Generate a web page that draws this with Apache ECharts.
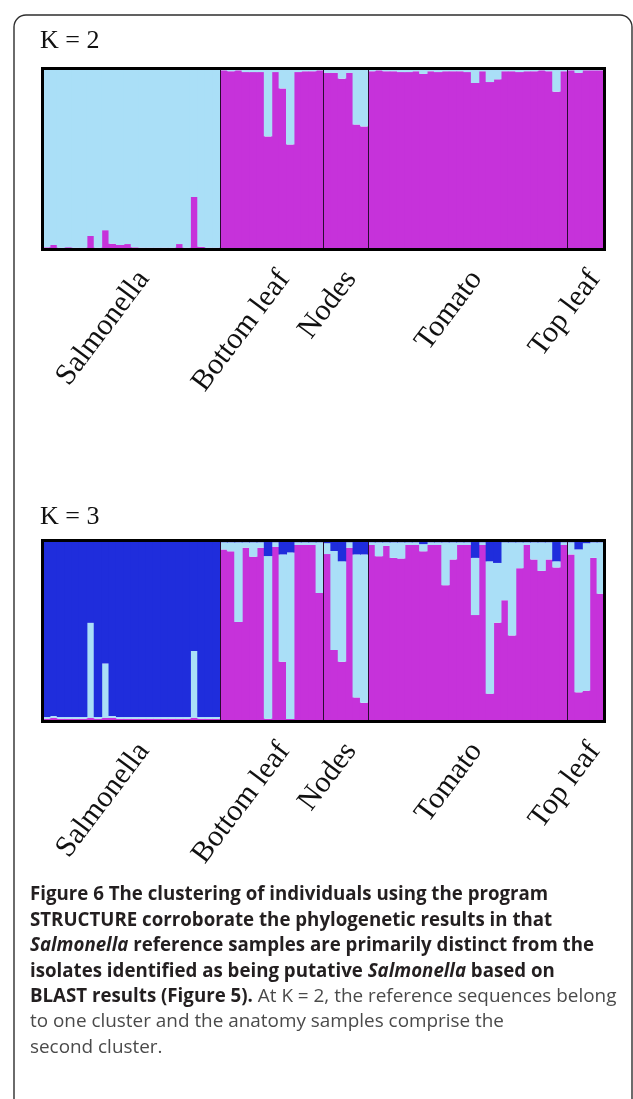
<!DOCTYPE html>
<html>
<head>
<meta charset="utf-8">
<script src="https://cdn.jsdelivr.net/npm/echarts@6/dist/echarts.min.js"></script>
<style>
html,body{margin:0;padding:0;background:#fff;}
#chart{width:633px;height:1099px;}
</style>
</head>
<body>
<div id="chart"></div>
<script>
// ---- data ----
const groups = ['Salmonella', 'Bottom leaf', 'Nodes', 'Tomato', 'Top leaf'];
const groupSizes = [24, 14, 6, 27, 5];
const groupLabelAt = [12, 7, 2, 13, 2];   // which individual in each group carries the group label
const panelTitles = ['K = 2', 'K = 3'];

// K = 2 : light-blue cluster share (%) per individual (rest is magenta cluster)
const k2LightSalmonella = [98.8, 97.5, 99.0, 98.7, 99.0, 99.0, 92.5, 99.0, 89.3, 96.8, 97.5, 97.0, 98.8, 99.0, 99.0, 99.0, 99.0, 99.0, 97.0, 99.0, 71.0, 98.5, 99.0, 99.0];
const k2LightBottomLeaf = [1, 1.5, 1, 2, 2, 2, 37.5, 2, 11, 42, 2, 1.5, 1.5, 1];
const k2LightNodes = [2.4, 2.4, 5.6, 2.4, 31, 32];
const k2LightTomato = [1.5, 1, 1.5, 1.5, 2, 2, 1.5, 3, 1.5, 2, 1.5, 1.5, 1.5, 2, 8, 1.5, 7.5, 6, 1.5, 1.5, 2, 1.5, 1.5, 1, 1.5, 12.8, 1.5];
const k2LightTopLeaf = [1, 2.4, 1, 1, 1];

// K = 3 : dark-blue and light-blue cluster shares (%) (rest is magenta cluster)
const k3DarkSalmonella = [97.5, 97, 97.5, 97.5, 97.5, 97.5, 45.5, 97.5, 68, 97, 97.5, 97.5, 97.5, 97.5, 97.5, 97.5, 97.5, 97.5, 97.5, 97.5, 61, 97.5, 97.5, 97.5];
const k3LightSalmonella = [1, 1, 1, 1, 1, 1, 52.5, 1, 30, 1, 1, 1, 1, 1, 1, 1, 1, 1, 1, 1, 37, 1, 1, 1];
const k3DarkBottomLeaf = [1, 1, 1, 1, 1, 1, 8.6, 1, 7.7, 6.6, 1, 1, 1, 1];
const k3LightBottomLeaf = [4, 5, 44, 3, 8, 3, 89.9, 2.5, 59.3, 92, 1.5, 1.5, 1.5, 28];
const k3DarkNodes = [1.5, 5.8, 11.5, 1, 7.7, 7.7];
const k3LightNodes = [6, 54.7, 55.5, 3, 79, 82];
const k3DarkTomato = [1, 1, 1, 1, 1, 1, 1, 2, 1, 1, 1, 1, 1, 1, 9.6, 1, 11.5, 12.4, 1, 1, 1, 1, 1, 1, 1, 11.5, 1];
const k3LightTomato = [1.5, 7.7, 2, 8.6, 9, 1.5, 1.5, 4, 1.5, 1.5, 23.7, 9.5, 1.5, 1.5, 31.6, 1.5, 73.1, 33, 32, 51.5, 14.3, 1.5, 9.5, 15.8, 9.5, 3.4, 1.5];
const k3DarkTopLeaf = [1, 4.9, 1.5, 1, 1];
const k3LightTopLeaf = [6.7, 79, 81.5, 8.6, 28.4];

const captionLines = [
  '{b|Figure 6 The clustering of individuals using the program}',
  '{b|STRUCTURE corroborate the phylogenetic results in that}',
  '{bi|Salmonella}{b| reference samples are primarily distinct from the}',
  '{b|isolates identified as being putative }{bi|Salmonella}{b| based on}',
  '{b|BLAST results (Figure 5).}{n| At K = 2, the reference sequences belong}',
  '{n|to one cluster and the anatomy samples comprise the}',
  '{n|second cluster.}'
];

// ---- build ----
const LIGHT = '#aadff7', MAG = '#c632da', DARK = '#1f2ddc', SEP = '#2a0b33';
const k2Light = [].concat(k2LightSalmonella, k2LightBottomLeaf, k2LightNodes, k2LightTomato, k2LightTopLeaf);
const k2Mag = k2Light.map(v => +(100 - v).toFixed(2));
const k3Dark = [].concat(k3DarkSalmonella, k3DarkBottomLeaf, k3DarkNodes, k3DarkTomato, k3DarkTopLeaf);
const k3Light = [].concat(k3LightSalmonella, k3LightBottomLeaf, k3LightNodes, k3LightTomato, k3LightTopLeaf);
const k3Mag = k3Dark.map((d, i) => +(100 - d - k3Light[i]).toFixed(2));

const total = groupSizes.reduce((a, b) => a + b, 0);
const sampleLabels = [];
const boundaries = [];
let acc = 0;
groups.forEach((g, gi) => {
  const n = groupSizes[gi];
  for (let i = 0; i < n; i++) sampleLabels.push(i === groupLabelAt[gi] ? g : '');
  acc += n;
  if (gi < groups.length - 1) boundaries.push(acc);
});

const gridBase = {left: 42.5, width: 562, height: 181, show: true, borderColor: '#000', borderWidth: 3, backgroundColor: 'rgba(0,0,0,0)', z: 10};
const catAxis = (gi) => ({
  type: 'category', gridIndex: gi, data: sampleLabels,
  axisLine: {show: false}, axisTick: {show: false}, splitLine: {show: false},
  axisLabel: {interval: 0, rotate: 53, margin: 18, verticalAlign: 'top', lineHeight: 22,
    fontFamily: 'Liberation Serif', fontSize: 30, color: '#111'}
});
const bar = (name, gi, stack, data, color) => ({
  type: 'bar', name, xAxisIndex: gi, yAxisIndex: gi, stack, data,
  barWidth: '114%', itemStyle: {color}, silent: true
});
const sepSeries = (gi) => ({
  type: 'line', xAxisIndex: 2 + gi, yAxisIndex: gi, data: [], z: 6, silent: true,
  markLine: {symbol: ['none', 'none'], silent: true, label: {show: false},
    lineStyle: {color: SEP, width: 1, type: 'solid'}, emphasis: {disabled: true},
    data: boundaries.map(b => ({xAxis: b}))}
});

const graphic = [
  {type: 'rect', shape: {x: 14, y: 15, width: 618, height: 1200, r: 12}, style: {fill: 'none', stroke: '#2e2e2e', lineWidth: 1.4}, silent: true},
  {type: 'text', x: 40, y: 41, style: {text: panelTitles[0], fontFamily: 'Liberation Serif', fontSize: 26, fill: '#111', verticalAlign: 'middle'}},
  {type: 'text', x: 40, y: 517, style: {text: panelTitles[1], fontFamily: 'Liberation Serif', fontSize: 26, fill: '#111', verticalAlign: 'middle'}}
];
const FS = 18.7;
const rich = {
  b: {fontFamily: 'Open Sans', fontSize: FS, fontWeight: 'bold', fill: '#231f20'},
  bi: {fontFamily: 'Open Sans', fontSize: FS, fontWeight: 'bold', fontStyle: 'italic', fill: '#231f20'},
  n: {fontFamily: 'Open Sans', fontSize: 18.9, fontWeight: 'normal', fill: '#4a4a4a'}
};
captionLines.forEach((t, i) => {
  graphic.push({type: 'text', x: 30, y: 895 + i * 25.4, style: {text: t, rich, fontFamily: 'Open Sans', fontSize: FS, verticalAlign: 'middle'}});
});

const option = {
  animation: false,
  backgroundColor: '#ffffff',
  grid: [Object.assign({top: 68.5}, gridBase), Object.assign({top: 540.5}, gridBase)],
  xAxis: [catAxis(0), catAxis(1),
    {type: 'value', gridIndex: 0, min: 0, max: total, show: false},
    {type: 'value', gridIndex: 1, min: 0, max: total, show: false}],
  yAxis: [
    {type: 'value', gridIndex: 0, min: 0, max: 100, show: false},
    {type: 'value', gridIndex: 1, min: 0, max: 100, show: false}],
  series: [
    bar('K2 cluster 2', 0, 'k2', k2Mag, MAG),
    bar('K2 cluster 1', 0, 'k2', k2Light, LIGHT),
    bar('K3 cluster 2', 1, 'k3', k3Mag, MAG),
    bar('K3 cluster 1', 1, 'k3', k3Light, LIGHT),
    bar('K3 cluster 3', 1, 'k3', k3Dark, DARK),
    sepSeries(0), sepSeries(1)
  ],
  graphic
};
const chart = echarts.init(document.getElementById('chart'), null, {renderer: 'canvas'});
chart.setOption(option);
</script>
</body>
</html>
